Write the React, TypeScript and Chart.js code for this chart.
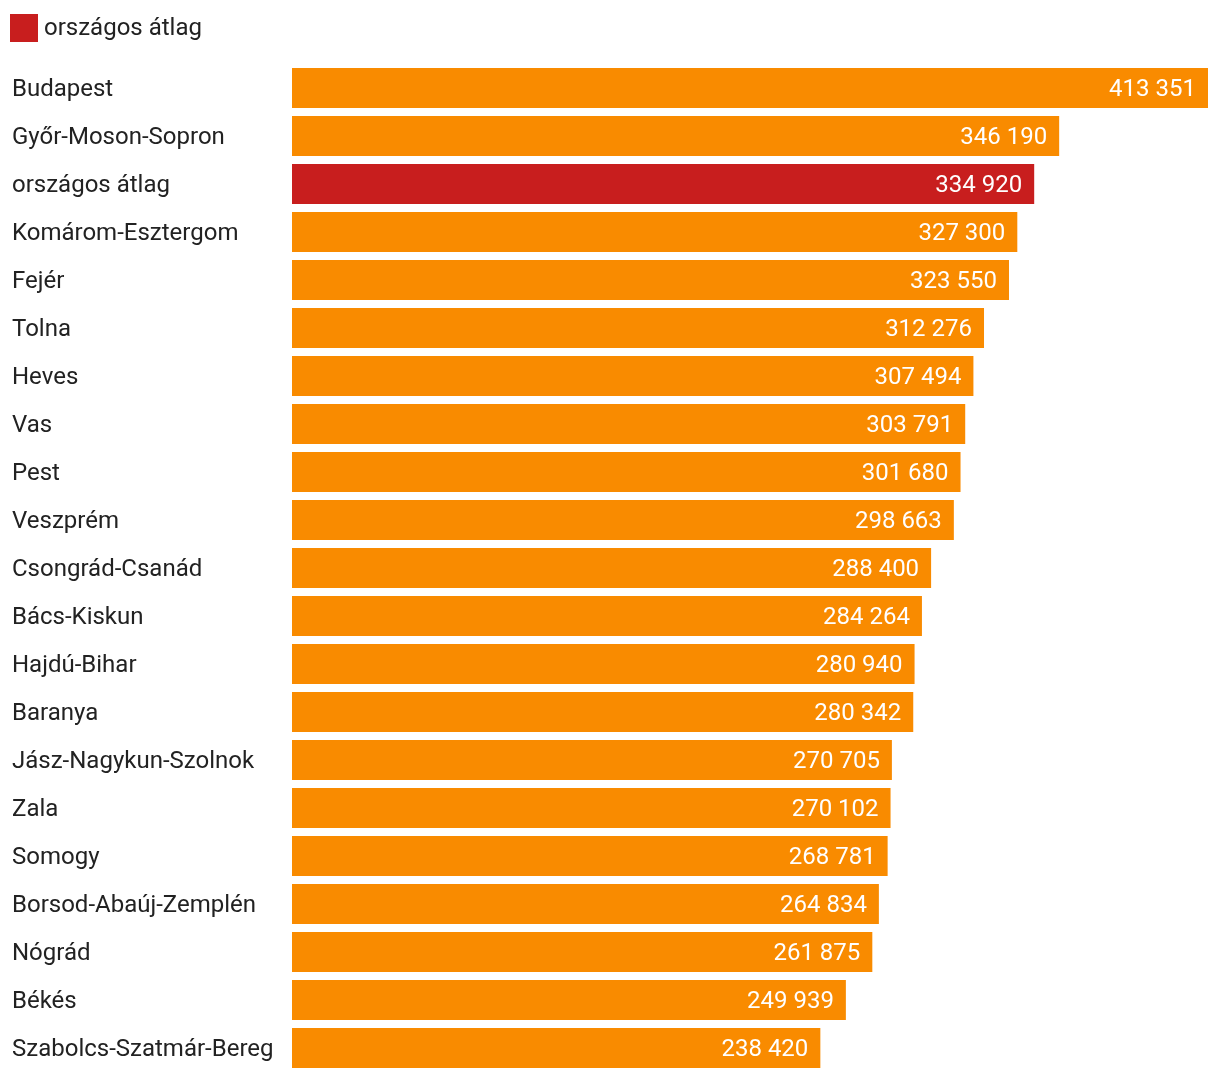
import React, { useEffect, useRef } from "react";
import { Chart, registerables } from "chart.js";

Chart.register(...registerables);

const categories = [
  "Budapest",
  "Győr-Moson-Sopron",
  "országos átlag",
  "Komárom-Esztergom",
  "Fejér",
  "Tolna",
  "Heves",
  "Vas",
  "Pest",
  "Veszprém",
  "Csongrád-Csanád",
  "Bács-Kiskun",
  "Hajdú-Bihar",
  "Baranya",
  "Jász-Nagykun-Szolnok",
  "Zala",
  "Somogy",
  "Borsod-Abaúj-Zemplén",
  "Nógrád",
  "Békés",
  "Szabolcs-Szatmár-Bereg",
];

const values = [
  413351, 346190, 334920, 327300, 323550, 312276, 307494, 303791, 301680,
  298663, 288400, 284264, 280940, 280342, 270705, 270102, 268781, 264834,
  261875, 249939, 238420,
];

const highlightLabel = "országos átlag";
const ORANGE = "#F98B00";
const RED = "#C81E1E";
const TEXT = "#222222";
const FONT = "Roboto, 'Noto Sans', sans-serif";

const fmt = (v: number) =>
  String(v).replace(/\B(?=(\d{3})+(?!\d))/g, " ");

export default function App() {
  const ref = useRef<HTMLCanvasElement | null>(null);

  useEffect(() => {
    document.body.style.margin = "0";
    const canvas = ref.current;
    if (!canvas) return;

    const colors = categories.map((c) => (c === highlightLabel ? RED : ORANGE));

    const valueLabels = {
      id: "valueLabels",
      afterDatasetsDraw(chart: any) {
        const ctx = chart.ctx;
        const meta = chart.getDatasetMeta(0);
        ctx.save();
        ctx.font = `24px ${FONT}`;
        ctx.fillStyle = "#ffffff";
        ctx.textAlign = "right";
        ctx.textBaseline = "middle";
        meta.data.forEach((bar: any, i: number) => {
          ctx.fillText(fmt(values[i]), bar.x - 12, bar.y + 2);
        });
        ctx.restore();
      },
    };

    const customLegend = {
      id: "customLegend",
      afterDraw(chart: any) {
        const ctx = chart.ctx;
        ctx.save();
        ctx.fillStyle = RED;
        ctx.fillRect(10, 14, 28, 28);
        ctx.font = `24px ${FONT}`;
        ctx.fillStyle = TEXT;
        ctx.textAlign = "left";
        ctx.textBaseline = "middle";
        ctx.fillText(highlightLabel, 44, 29);
        ctx.restore();
      },
    };

    const shiftLabels = {
      id: "shiftLabels",
      afterLayout(chart: any) {
        const y = chart.scales.y;
        if (y) y.left = 12;
      },
    };

    const chart = new Chart(canvas, {
      type: "bar",
      data: {
        labels: categories,
        datasets: [
          {
            label: highlightLabel,
            data: values,
            backgroundColor: colors,
            borderWidth: 0,
            categoryPercentage: 1,
            barPercentage: 40 / 48,
          },
        ],
      },
      options: {
        indexAxis: "y",
        animation: false,
        responsive: false,
        maintainAspectRatio: false,
        layout: { padding: { left: 0, right: 12, top: 64, bottom: 8 } },
        scales: {
          x: {
            display: false,
            min: 0,
            max: Math.max(...values),
          },
          y: {
            grid: { display: false },
            border: { display: false },
            ticks: {
              crossAlign: "far",
              color: TEXT,
              font: { family: FONT, size: 24 },
              padding: 0,
              labelOffset: 2,
              autoSkip: false,
            },
            afterFit(scale: any) {
              scale.width = 292;
              scale.paddingTop = 0;
              scale.paddingBottom = 0;
            },
          },
        },
        plugins: {
          tooltip: { enabled: false },
          legend: { display: false },
        },
      },
      plugins: [valueLabels, customLegend, shiftLabels],
    } as any);

    return () => chart.destroy();
  }, []);

  return (
    <div style={{ width: 1220, height: 1080, background: "#fff" }}>
      <canvas ref={ref} width={1220} height={1080} style={{ display: "block" }} />
    </div>
  );
}
